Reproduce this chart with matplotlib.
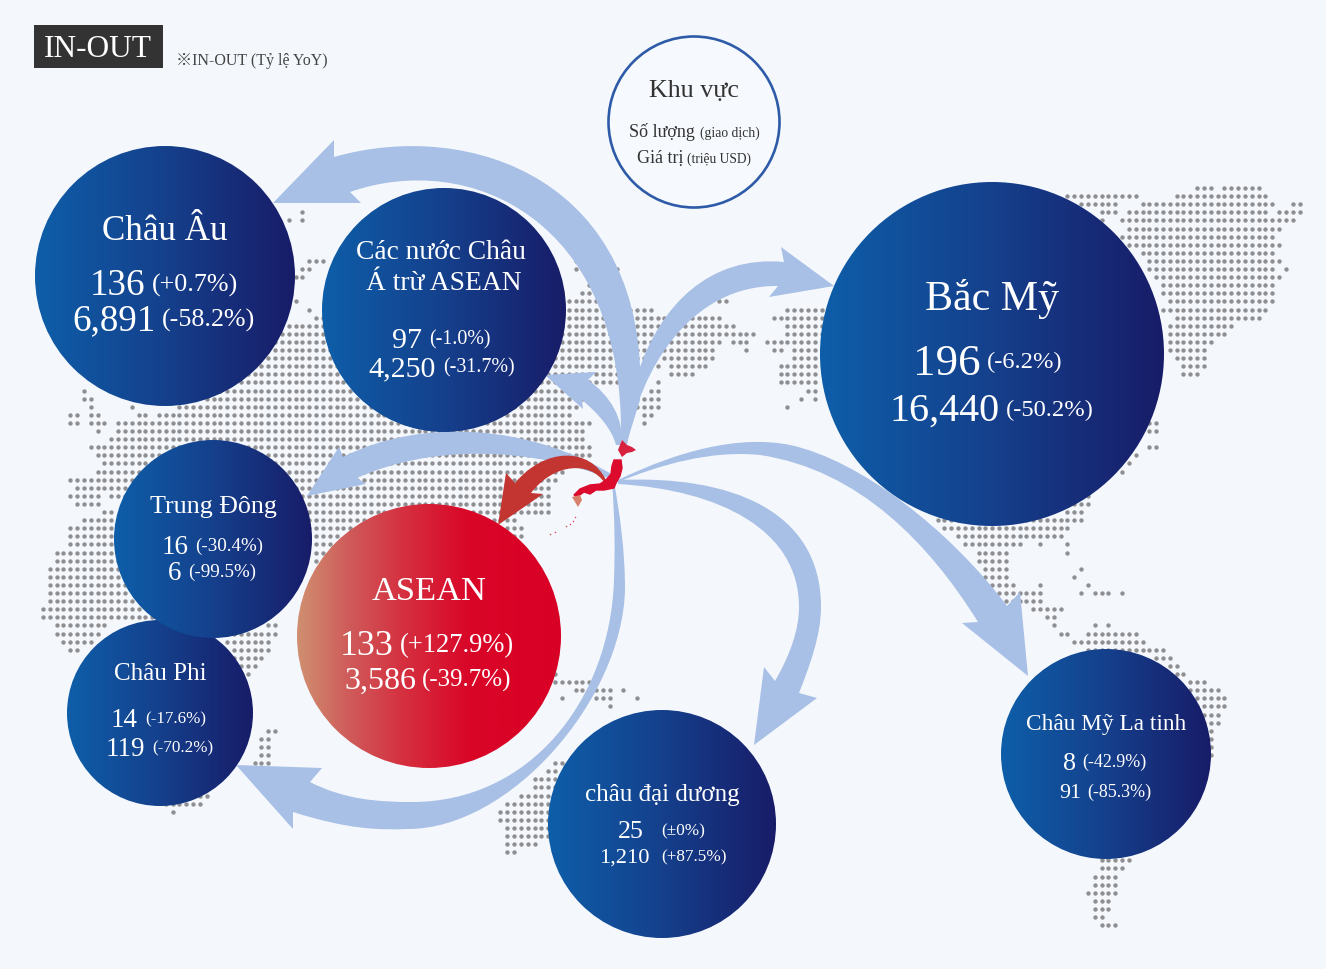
import numpy as np
import matplotlib
matplotlib.use('Agg')
import matplotlib.pyplot as plt
from matplotlib.patches import Circle, PathPatch, Polygon, Rectangle
from matplotlib.path import Path
from matplotlib.colors import LinearSegmentedColormap

plt.rcParams['font.family'] = ['Liberation Serif', 'Noto Sans CJK JP', 'DejaVu Sans']

# values
regions = ['Châu Âu', 'Các nước Châu\nÁ trừ ASEAN', 'Bắc Mỹ', 'Châu Phi', 'Trung Đông',
           'ASEAN', 'châu đại dương', 'Châu Mỹ La tinh']
deals = ['136', '97', '196', '14', '16', '133', '25', '8']
deals_yoy = ['(+0.7%)', '(-1.0%)', '(-6.2%)', '(-17.6%)', '(-30.4%)', '(+127.9%)', '(±0%)', '(-42.9%)']
amounts = ['6,891', '4,250', '16,440', '119', '6', '3,586', '1,210', '91']
amounts_yoy = ['(-58.2%)', '(-31.7%)', '(-50.2%)', '(-70.2%)', '(-99.5%)', '(-39.7%)', '(+87.5%)', '(-85.3%)']

# cx, cy, r, title baseline, title size, row1 baseline, row2 baseline,
# row1 split, row2 split, pct start row1, pct start row2, num1 size, num2 size, pct1 size, pct2 size
layout = [
    (165, 276, 130, 240, 35, 295, 330, 145, 156, 152, 162, 37, 37, 26, 26),
    (444, 310, 122, 259, 27.5, 348, 376, 422, 436, 429, 443, 30, 30, 20, 20),
    (992, 354, 172, 310, 42, 375, 421, 981, 1000, 987, 1006, 45, 40, 24.5, 24.5),
    (160, 713, 93, 680, 25, 727, 756, 137, 145, 145, 152, 27, 27, 17, 17),
    (213, 539, 99, 513, 26, 554, 580, 188, 181, 195, 188, 27, 27, 19, 19),
    (429, 636, 132, 600, 34.5, 655, 689, 394, 416, 400, 422, 36, 32, 26.5, 25),
    (662, 824, 114, 801, 25, 838, 863, 644, 650, 661, 661, 26, 22.5, 17.3, 17.3),
    (1106, 754, 105, 730, 23.3, 770, 798, 1076, 1081, 1082, 1087, 26, 22, 18, 18),
]

# dotted map: y, then x spans of each row
map_rows = [
    (188, [(1195, 1210), (1222, 1257)]),
    (196, [(1067, 1135), (1175, 1263)]),
    (204, [(1080, 1115), (1142, 1270), (1290, 1303)]),
    (212, [(302, 302), (1100, 1115), (1128, 1263), (1277, 1297)]),
    (220, [(288, 288), (302, 302), (1100, 1100), (1122, 1290)]),
    (229, [(1128, 1277)]),
    (237, [(1122, 1270)]),
    (245, [(1128, 1277)]),
    (253, [(1142, 1270)]),
    (261, [(308, 322), (578, 578), (1148, 1277)]),
    (269, [(302, 308), (578, 585), (597, 620), (1148, 1270), (1283, 1283)]),
    (277, [(295, 302), (1155, 1277)]),
    (285, [(592, 592), (1162, 1270)]),
    (293, [(585, 598), (1162, 1270)]),
    (302, [(295, 295), (572, 625), (720, 727), (1168, 1270)]),
    (310, [(308, 308), (565, 653), (790, 823), (1162, 1263)]),
    (318, [(313, 320), (560, 667), (693, 720), (775, 823), (1175, 1257)]),
    (326, [(287, 660), (687, 735), (788, 823), (1168, 1230)]),
    (334, [(280, 658), (680, 755), (788, 823), (1168, 1223)]),
    (342, [(273, 653), (673, 720), (735, 748), (768, 817), (1168, 1210)]),
    (350, [(260, 653), (667, 715), (748, 748), (775, 783), (797, 817), (1168, 1203)]),
    (358, [(240, 647), (667, 715), (797, 817), (1175, 1203)]),
    (367, [(220, 640), (660, 660), (673, 708), (782, 817), (1182, 1203)]),
    (375, [(205, 625), (673, 693), (782, 817), (1182, 1197)]),
    (383, [(205, 625), (660, 660), (782, 817)]),
    (391, [(85, 85), (205, 587), (653, 660), (810, 817)]),
    (399, [(85, 92), (205, 587), (647, 660), (803, 803), (817, 817)]),
    (407, [(92, 92), (132, 132), (178, 573), (640, 660), (790, 790)]),
    (415, [(72, 78), (92, 98), (138, 145), (158, 572), (647, 653)]),
    (423, [(72, 78), (92, 105), (118, 592), (647, 647), (1148, 1157)]),
    (431, [(98, 98), (118, 585), (1148, 1157)]),
    (439, [(112, 585)]),
    (448, [(92, 592), (1148, 1157)]),
    (456, [(98, 592), (1135, 1135)]),
    (464, [(105, 572), (1128, 1128)]),
    (472, [(98, 565), (1122, 1122)]),
    (480, [(72, 552)]),
    (488, [(78, 545)]),
    (496, [(72, 100), (112, 545), (1088, 1088)]),
    (504, [(78, 100), (200, 545), (1073, 1088)]),
    (513, [(105, 113), (200, 545), (1067, 1082)]),
    (521, [(85, 113), (200, 517), (937, 1082)]),
    (529, [(72, 113), (200, 518), (943, 1068)]),
    (537, [(72, 113), (314, 338), (400, 518), (958, 1062)]),
    (545, [(72, 113), (314, 334), (965, 1022), (1040, 1040), (1067, 1067)]),
    (553, [(57, 113), (314, 326), (980, 1008), (1067, 1067)]),
    (561, [(57, 117), (314, 322), (980, 1008)]),
    (569, [(50, 120), (987, 1008), (1080, 1080)]),
    (577, [(50, 123), (987, 1008), (1073, 1073)]),
    (585, [(50, 127), (993, 1013), (1040, 1040), (1087, 1087)]),
    (593, [(50, 127), (1000, 1042), (1080, 1080), (1093, 1108), (1122, 1122)]),
    (602, [(50, 133), (1007, 1042)]),
    (610, [(43, 140), (1033, 1062)]),
    (618, [(43, 150), (1047, 1055)]),
    (626, [(57, 107), (267, 275), (1053, 1053), (1094, 1094), (1108, 1108)]),
    (634, [(57, 100), (227, 275), (1060, 1068), (1087, 1135)]),
    (642, [(63, 93), (227, 268), (1073, 1143)]),
    (650, [(70, 80), (233, 268), (1087, 1163)]),
    (658, [(233, 262), (1153, 1170)]),
    (667, [(240, 255), (1167, 1177)]),
    (675, [(247, 247), (558, 558), (1177, 1183)]),
    (683, [(558, 587), (1190, 1203)]),
    (691, [(578, 607), (626, 626), (1193, 1217)]),
    (699, [(565, 565), (598, 607), (640, 640), (1197, 1223)]),
    (707, [(613, 613), (1200, 1223)]),
    (715, [(1207, 1217)]),
    (723, [(1207, 1217)]),
    (731, [(267, 275), (1210, 1210)]),
    (739, [(260, 268), (1210, 1210)]),
    (748, [(260, 268), (1210, 1210)]),
    (756, [(260, 268), (1210, 1210)]),
    (764, [(253, 268), (558, 565)]),
    (772, [(545, 558)]),
    (780, [(213, 213), (538, 552)]),
    (788, [(193, 207), (538, 552)]),
    (796, [(173, 207), (518, 552)]),
    (805, [(165, 200), (505, 552)]),
    (813, [(173, 173), (498, 545)]),
    (821, [(498, 545)]),
    (829, [(505, 545)]),
    (837, [(505, 545)]),
    (845, [(505, 532)]),
    (853, [(505, 512)]),
    (861, [(1100, 1128)]),
    (869, [(1100, 1122)]),
    (877, [(1093, 1115)]),
    (886, [(1093, 1115)]),
    (894, [(1087, 1115)]),
    (902, [(1093, 1108)]),
    (910, [(1093, 1108)]),
    (918, [(1093, 1102)]),
    (926, [(1100, 1115)]),
]

M, C, L, Z = Path.MOVETO, Path.CURVE4, Path.LINETO, Path.CLOSEPOLY

# arrow outlines: start point, then segments (3 points = bezier, 1 point = line)
arrows_blue = [
    # Europe
    [(334, 157), [(470, 118), (650, 180), (640, 400)], [(626, 445)], [(621, 440)],
     [(625, 220), (470, 150), (350, 192)], [(361, 203)], [(273, 203)], [(334, 140)]],
    # other Asia
    [(588, 380), [(610, 395), (625, 420), (621, 445)], [(616, 445)],
     [(612, 430), (600, 415), (582, 400)], [(583, 409)], [(545, 375)], [(596, 372)]],
    # North America
    [(784, 262), [(710, 255), (660, 305), (638, 373)], [(622, 445)], [(627, 445)],
     [(640, 370), (690, 285), (778, 286)], [(769, 297)], [(834, 286)], [(781, 247)]],
    # Middle East
    [(343, 457), [(420, 418), (530, 423), (618, 478)], [(618, 482)],
     [(530, 445), (430, 445), (357, 478)], [(366, 484)], [(307, 496)], [(339, 447)]],
    # Africa
    [(293, 812), [(350, 830), (380, 830), (408, 829)], [(510, 829), (622, 700), (625, 590)],
     [(625, 550), (620, 515), (614, 482)], [(612, 482)], [(615, 520), (615, 550), (614, 580)],
     [(610, 700), (530, 802), (412, 802)], [(380, 802), (345, 800), (310, 782)],
     [(322, 768)], [(236, 765)], [(293, 829)]],
    # Oceania
    [(618, 480), [(730, 475), (821, 510), (821, 607)], [(821, 635), (810, 665), (799, 693)],
     [(817, 698)], [(754, 745)], [(764, 667)], [(775, 681)],
     [(790, 655), (799, 630), (799, 607)], [(799, 530), (720, 490), (618, 484)]],
    # Latin America
    [(618, 480), [(680, 450), (740, 435), (790, 445)], [(860, 460), (950, 530), (1007, 606)],
     [(1020, 592)], [(1028, 676)], [(962, 623)], [(978, 622)],
     [(930, 545), (860, 470), (760, 455)], [(710, 450), (660, 465), (618, 482)]],
]
arrow_red = [(515, 483), [(545, 447), (590, 447), (606, 480)], [(604, 482)],
             [(590, 462), (555, 462), (531, 493)], [(543, 494)], [(498, 525)], [(506, 473)]]

hokkaido = [(622, 440), (627, 445), (632, 447), (636, 450), (632, 452), (627, 453), (622, 457),
            (618, 450)]
honshu = [(614, 460), (621, 460), (622, 468), (620, 476), (616, 483), (614, 488), (604, 490),
          (596, 490), (590, 494), (584, 492), (577, 497), (574, 495), (580, 489), (590, 485),
          (600, 484), (606, 480), (611, 474), (612, 466)]
kyushu = [(572, 497), (580, 495), (582, 500), (578, 507), (575, 502)]
ryukyu_x = [575, 573, 570, 566, 555, 550]
ryukyu_y = [517, 521, 524, 526, 532, 534]


def px(size):
    # font size in picture pixels to points
    return size * 0.72


def arrow(outline, color, z):
    verts = [outline[0]]
    codes = [M]
    for seg in outline[1:]:
        verts += seg
        codes += [C] * 3 if len(seg) == 3 else [L]
    verts.append(outline[0])
    codes.append(Z)
    ax.add_patch(PathPatch(Path(verts, codes), fc=color, ec='none', zorder=z))


def disc(cx, cy, r, cmap, z):
    grad = np.linspace(0, 1, 256).reshape(1, -1)
    im = ax.imshow(grad, cmap=cmap, extent=(cx - r, cx + r, cy + r, cy - r),
                   aspect='auto', zorder=z)
    im.set_clip_path(Circle((cx, cy), r, transform=ax.transData))


fig = plt.figure(figsize=(13.26, 9.69), dpi=100, facecolor='#f4f8fc')
ax = fig.add_axes([0, 0, 1, 1])
ax.set_facecolor('#f4f8fc')

# map dots, snapped to one grid
dots_x = []
dots_y = []
step_x = 6.83
for y, spans in map_rows:
    for x0, x1 in spans:
        k0 = round((x0 - 1.9) / step_x)
        k1 = round((x1 - 1.9) / step_x)
        for k in range(k0, k1 + 1):
            dots_x.append(1.9 + k * step_x)
            dots_y.append(188 + round((y - 188) / 8.1) * 8.1)
ax.scatter(dots_x, dots_y, s=10, c='#8f8f92', linewidths=0, zorder=1)

for a in arrows_blue:
    arrow(a, '#a8bfe6', 2)

blue = LinearSegmentedColormap.from_list('blue', ['#0e5ea9', '#15408c', '#181c68'])
red = LinearSegmentedColormap.from_list('red', [(0, '#cf9070'), (0.2, '#cf5a5a'), (0.4, '#d5303f'),
                                                (0.65, '#d90628'), (1, '#d90025')])

for i in range(len(regions)):
    cx, cy, r, ty, ts, y1, y2, s1, s2, p1, p2, n1, n2, ps1, ps2 = layout[i]
    disc(cx, cy, r, red if regions[i] == 'ASEAN' else blue, 3 + i * 0.1)
    z = 4 + i * 0.1
    lines = regions[i].split('\n')
    for j, line in enumerate(lines):
        ax.text(cx - 3 + j * 3 if len(lines) > 1 else cx, ty + j * 31, line, color='white',
                fontsize=px(ts), ha='center', va='baseline', zorder=z)
    # percentages sit centred on the bigger number next to them
    ax.text(s1, y1, deals[i], color='white', fontsize=px(n1), ha='right', va='baseline', zorder=z)
    ax.text(p1, y1 - (n1 - ps1) * 0.33, deals_yoy[i], color='white', fontsize=px(ps1),
            ha='left', va='baseline', zorder=z)
    ax.text(s2, y2, amounts[i], color='white', fontsize=px(n2), ha='right', va='baseline', zorder=z)
    ax.text(p2, y2 - (n2 - ps2) * 0.33, amounts_yoy[i], color='white', fontsize=px(ps2),
            ha='left', va='baseline', zorder=z)

# Japan and the ASEAN arrow on top
arrow(arrow_red, '#c23531', 6)
ax.add_patch(Polygon(hokkaido, fc='#d8213f', ec='none', zorder=7))
ax.add_patch(Polygon(honshu, fc='#dc0a2c', ec='#dc0a2c', lw=1, zorder=7))
ax.add_patch(Polygon(kyushu, fc='#d9806c', ec='none', zorder=7))
ax.scatter(ryukyu_x, ryukyu_y, s=1.2, c='#e0405a', linewidths=0, zorder=7)

# header
ax.add_patch(Rectangle((34, 25), 129, 43, fc='#333333', ec='none', zorder=5))
ax.text(98, 57, 'IN-OUT', color='white', fontsize=px(31.4), ha='center', va='baseline', zorder=6)
ax.text(176, 65, '※IN-OUT (Tỷ lệ YoY)', color='#444444', fontsize=px(16), ha='left', va='baseline', zorder=6)

# legend circle
ax.add_patch(Circle((694, 122), 85.5, fc='#f6f9fd', ec='#2e5ba8', lw=1.9, zorder=5))
ax.text(694, 97, 'Khu vực', color='#333333', fontsize=px(26), ha='center', va='baseline', zorder=6)
ax.text(629, 137, 'Số lượng', color='#333333', fontsize=px(18), ha='left', va='baseline', zorder=6)
ax.text(700, 137, '(giao dịch)', color='#333333', fontsize=px(13.6), ha='left', va='baseline', zorder=6)
ax.text(637, 163, 'Giá trị', color='#333333', fontsize=px(18), ha='left', va='baseline', zorder=6)
ax.text(687, 163, '(triệu USD)', color='#333333', fontsize=px(13.5), ha='left', va='baseline', zorder=6)

ax.set_xlim(0, 1326)
ax.set_ylim(969, 0)
ax.axis('off')
fig.savefig('out.png', dpi=100, facecolor=fig.get_facecolor())
